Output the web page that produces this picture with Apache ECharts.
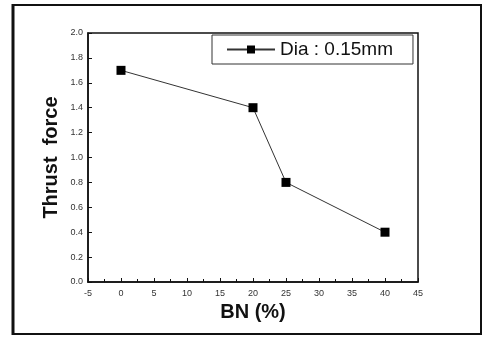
<!DOCTYPE html>
<html><head><meta charset="utf-8">
<script src="https://cdn.jsdelivr.net/npm/echarts@6/dist/echarts.min.js"></script>
<style>html,body{margin:0;padding:0;background:#fff}#c{width:485px;height:337px}</style>
</head><body><div id="c"></div>
<script>
const bnPercent = [0, 20, 25, 40];
const thrustForce = [1.7, 1.4, 0.8, 0.4];
const seriesName = 'Dia : 0.15mm';
const xAxisTitle = 'BN (%)';
const yAxisTitle = 'Thrust  force';

const chart = echarts.init(document.getElementById('c'));
chart.setOption({
  animation: false,
  backgroundColor: '#fff',
  graphic: [
    {type: 'rect', shape: {x: 13, y: 5, width: 468, height: 329}, style: {fill: 'none', stroke: '#111', lineWidth: 2}, z: 100},
    {type: 'line', shape: {x1: 13, y1: 4, x2: 13, y2: 335}, style: {stroke: '#111', lineWidth: 3}, z: 100}
  ],
  grid: {left: 88, right: 67, top: 33, bottom: 55, show: true, borderColor: '#111', borderWidth: 1.5},
  legend: {
    left: 212, top: 35, orient: 'horizontal',
    borderColor: '#333', borderWidth: 1, borderRadius: 0,
    padding: [5, 20, 5, 14],
    itemWidth: 48, itemHeight: 10, itemGap: 8,
    textStyle: {fontFamily: 'Liberation Sans, Arial', fontSize: 19, color: '#111'},
    data: [seriesName]
  },
  xAxis: {
    type: 'value', min: -5, max: 45, interval: 5,
    name: xAxisTitle, nameLocation: 'middle', nameGap: 19,
    nameTextStyle: {fontFamily: 'Liberation Sans, Arial', fontWeight: 'bold', fontSize: 20, color: '#111'},
    axisLine: {onZero: false, lineStyle: {color: '#111', width: 1.5}},
    axisTick: {inside: true, length: 4, lineStyle: {color: '#111'}},
    minorTick: {show: true, splitNumber: 2, length: 3, lineStyle: {color: '#111'}},
    splitLine: {show: false},
    axisLabel: {fontFamily: 'Liberation Sans, Arial', fontSize: 9, color: '#333', margin: 7}
  },
  yAxis: {
    type: 'value', min: 0, max: 2, interval: 0.2,
    name: yAxisTitle, nameLocation: 'middle', nameGap: 27, nameMoveOverlap: false,
    nameTextStyle: {fontFamily: 'Liberation Sans, Arial', fontWeight: 'bold', fontSize: 20, color: '#111'},
    axisLine: {show: true, onZero: false, lineStyle: {color: '#111', width: 1.5}},
    axisTick: {show: true, inside: true, length: 4, lineStyle: {color: '#111'}},
    splitLine: {show: false},
    axisLabel: {fontFamily: 'Liberation Sans, Arial', fontSize: 9, color: '#333', margin: 5,
      formatter: v => v.toFixed(1)}
  },
  series: [{
    name: seriesName, type: 'line',
    data: bnPercent.map((x, i) => [x, thrustForce[i]]),
    symbol: 'rect', symbolSize: 9,
    itemStyle: {color: '#000'},
    lineStyle: {color: '#333', width: 1}
  }]
});
</script></body></html>
